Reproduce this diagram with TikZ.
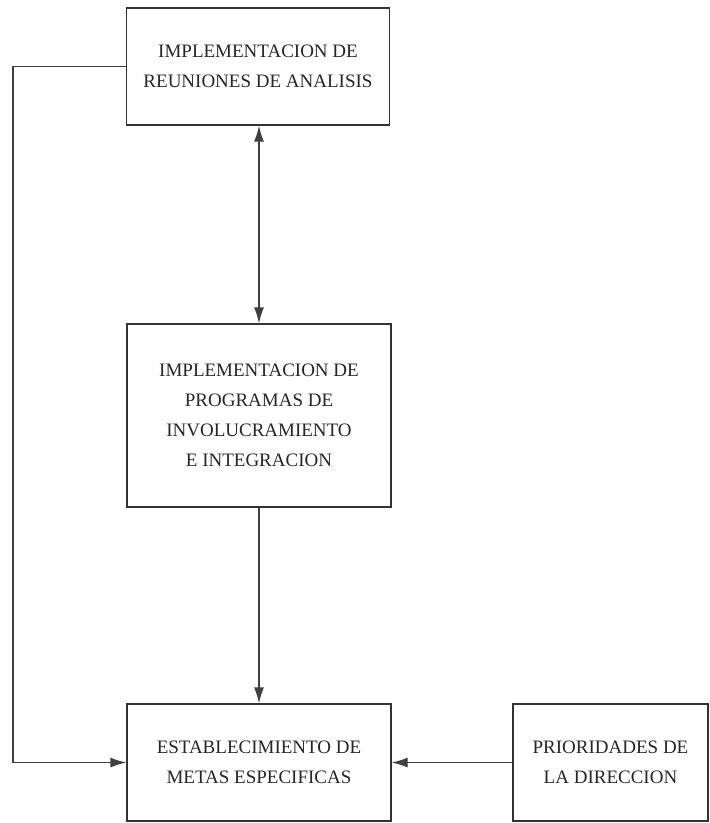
\documentclass[tikz,border=0pt]{standalone}
\usepackage{fontspec}
\setmainfont{Liberation Serif}
\usepackage{tikz}
\usetikzlibrary{arrows.meta,shapes}

\begin{document}
\begin{tikzpicture}[x=1pt, y=-1pt, >={Latex[length=16pt,width=10pt]},
        every node/.append style={font=\rmfamily\fontsize{19}{30}\selectfont, color=black!85}]
      \tikzstyle{caja} = [draw=black!80, line width=1.3pt, align=center, inner sep=0pt]
      \tikzstyle{flecha} = [draw=black!75, line width=1.3pt]
      \useasboundingbox (0,0) rectangle (710,823);
      \node (reuniones) [caja, minimum width=263pt, minimum height=117pt] at (258,66.5)
        {IMPLEMENTACION DE\\REUNIONES DE ANALISIS};
      \node (programas) [caja, minimum width=264pt, minimum height=183pt] at (259,415.5)
        {IMPLEMENTACION DE\\PROGRAMAS DE\\INVOLUCRAMIENTO\\E INTEGRACION};
      \node (metas) [caja, minimum width=264pt, minimum height=117pt] at (259,762.5)
        {ESTABLECIMIENTO DE\\METAS ESPECIFICAS};
      \node (prioridades) [caja, minimum width=195pt, minimum height=117pt] at (610.5,762.5)
        {PRIORIDADES DE\\LA DIRECCION};
      \coordinate (esquina) at (13,66.5);
      \draw[flecha, <->] (reuniones.south -| programas.north) -- (programas.north);
      \draw[flecha, ->] (programas) -- (metas);
      \draw[flecha, ->] (prioridades) -- (metas);
      \draw[flecha, ->] (reuniones.west) -- (esquina) |- (metas.west);
    \end{tikzpicture}
\end{document}
